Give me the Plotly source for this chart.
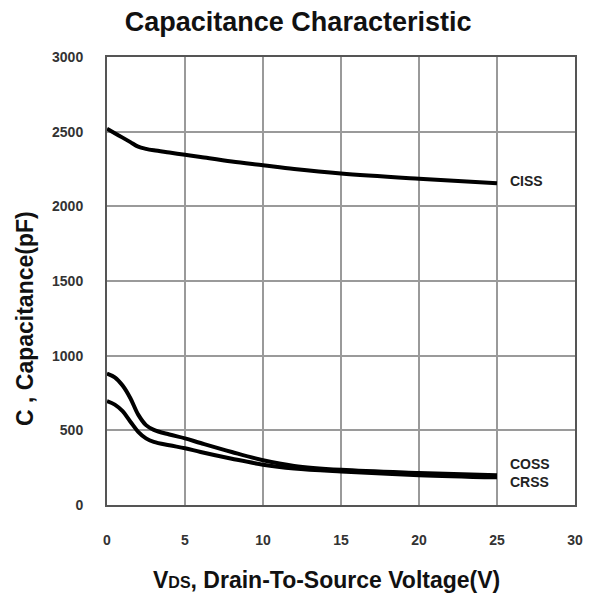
import plotly.graph_objects as go

vds = [0, 0.5, 1, 1.5, 2, 2.5, 3, 4, 5, 6, 8, 10, 12, 15, 20, 25]
ciss = [2520, 2490, 2460, 2430, 2400, 2385, 2375, 2360, 2345, 2330, 2300, 2275, 2250, 2220, 2185, 2155]
coss = [880, 855, 800, 715, 605, 535, 503, 472, 446, 415, 355, 300, 262, 236, 215, 200]
crss = [695, 672, 628, 558, 490, 446, 423, 400, 380, 355, 310, 270, 245, 225, 200, 185]

x_ticks = [0, 5, 10, 15, 20, 25, 30]
y_ticks = [0, 500, 1000, 1500, 2000, 2500, 3000]

FONT = "Liberation Sans, Arial, sans-serif"

L, T, PW, PH = 99, 49, 468, 448

fig = go.Figure()
for name, ys in [("CISS", ciss), ("COSS", coss), ("CRSS", crss)]:
    fig.add_trace(go.Scatter(x=vds, y=ys, mode="lines", name=name,
                             line=dict(color="black", width=4, shape="spline", smoothing=1.0),
                             showlegend=False))

fig.update_layout(
    width=597, height=600,
    margin=dict(l=L, r=597 - L - PW, t=T, b=600 - T - PH),
    paper_bgcolor="white", plot_bgcolor="white",
    font=dict(family=FONT, color="#222"),
    title=dict(text="<b>Capacitance Characteristic</b>", x=0.486, xanchor="center",
               y=1 - 14 / 600, yanchor="middle", font=dict(size=27, color="#111")),
)
fig.update_xaxes(range=[0, 30], tickvals=x_ticks, ticktext=[f"<b>{v}</b>" for v in x_ticks],
                 showgrid=True, gridcolor="#9a9a9a", gridwidth=2,
                 showline=True, linecolor="#555", linewidth=2, mirror=True,
                 zeroline=False, ticks="", ticklabelstandoff=21,
                 tickfont=dict(size=14, color="#333"))
fig.update_yaxes(range=[0, 3000], tickvals=y_ticks, ticktext=[f"<b>{v}</b>" for v in y_ticks],
                 showgrid=True, gridcolor="#9a9a9a", gridwidth=2,
                 showline=True, linecolor="#555", linewidth=2, mirror=True,
                 zeroline=False, ticks="", ticklabelstandoff=19,
                 tickfont=dict(size=14, color="#333"))

fig.add_annotation(text="<b>V<span style='font-size:16px'>DS</span>, Drain-To-Source Voltage(V)</b>",
                   xref="paper", yref="paper", x=(326 - 107) / PW, y=-(580 - 505) / PH,
                   xanchor="center", yanchor="middle", showarrow=False,
                   font=dict(size=23, color="#111"))
fig.add_annotation(text="<b>C , Capacitance(pF)</b>", textangle=-90,
                   xref="paper", yref="paper", x=-(107 - 25) / PW, y=(505 - 319) / PH,
                   xanchor="center", yanchor="middle", showarrow=False,
                   font=dict(size=23, color="#111"))

for label, yv in [("CISS", 2170), ("COSS", 275), ("CRSS", 154)]:
    fig.add_annotation(text=f"<b>{label}</b>", x=25.7, y=yv, xanchor="left", yanchor="middle",
                       showarrow=False, font=dict(size=14, color="#222"))

fig.write_html("out.html")
